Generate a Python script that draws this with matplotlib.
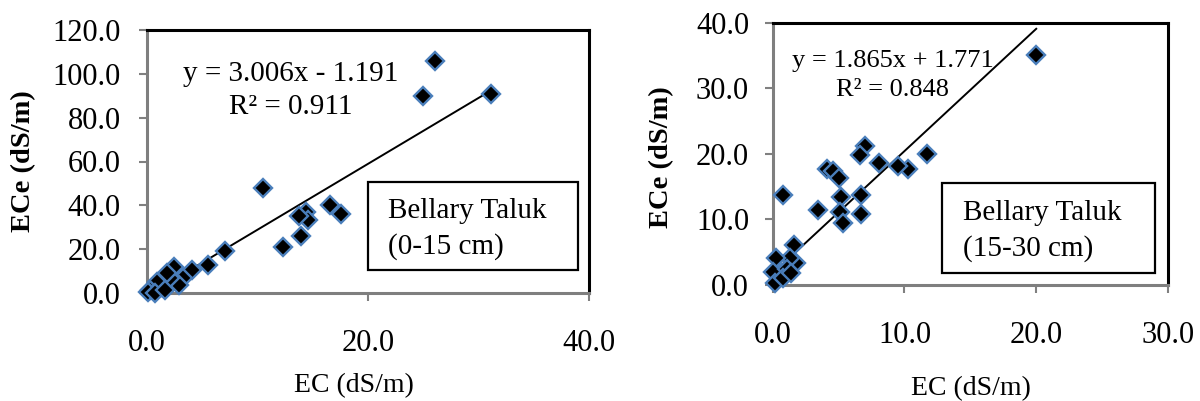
import matplotlib
matplotlib.use("Agg")
import matplotlib.pyplot as plt
from matplotlib.patches import Rectangle
import numpy as np

plt.rcParams['font.family'] = ['Liberation Serif', 'DejaVu Serif']

# ---- Data: Bellary Taluk (0-15 cm) ----
ec_0_15 = [26.1, 25.0, 31.1, 10.5, 16.6, 17.6, 14.4, 14.6, 13.8, 13.9, 12.3,
           7.1, 5.5, 4.1, 2.4, 3.3, 2.9, 2.1, 1.8, 1.3, 0.9, 0.3, 0.05, 0.7, 1.6]
ece_0_15 = [106.0, 90.0, 91.0, 48.0, 40.0, 36.0, 37.0, 33.5, 35.0, 26.0, 21.0,
            19.3, 12.8, 10.5, 12.0, 6.7, 3.7, 6.7, 9.0, 2.9, 5.2, 1.4, 0.3, 0.2, 1.2]
fit_0_15 = dict(slope=3.006, intercept=-1.191, r2=0.911)

# ---- Data: Bellary Taluk (15-30 cm) ----
ec_15_30 = [20.0, 11.7, 10.3, 9.5, 8.1, 7.0, 6.6, 4.1, 4.6, 5.0, 0.8, 6.7, 5.2,
            3.4, 6.7, 5.1, 5.3, 1.6, 1.8, 1.3, 0.25, 0.7, 0.05, 1.1, 0.2, 0.8, 1.4]
ece_15_30 = [35.0, 20.0, 17.7, 18.2, 18.6, 21.2, 19.8, 17.7, 17.4, 16.3, 13.8, 13.8, 13.4,
             11.4, 10.9, 11.2, 9.5, 6.1, 3.4, 4.1, 4.1, 1.9, 2.0, 2.4, 0.3, 1.0, 1.8]
fit_15_30 = dict(slope=1.865, intercept=1.771, r2=0.848)

x_ticks_left = [0.0, 20.0, 40.0]
y_ticks_left = [0.0, 20.0, 40.0, 60.0, 80.0, 100.0, 120.0]
x_ticks_right = [0.0, 10.0, 20.0, 30.0]
y_ticks_right = [0.0, 10.0, 20.0, 30.0, 40.0]

x_label = "EC (dS/m)"
y_label = "ECe (dS/m)"
box_left = ["Bellary Taluk", "(0-15 cm)"]
box_right = ["Bellary Taluk", "(15-30 cm)"]

W, H = 1200, 401
fig = plt.figure(figsize=(12, 4.01), dpi=100)

def fx(px):
    return px / W

def fy(py):
    return 1 - py / H

def make_axes(x0, x1, y0, y1):
    return fig.add_axes([fx(x0), fy(y1), fx(x1 - x0), (y1 - y0) / H])

def style(ax, xt, yt, xpad, ypad):
    ax.set_xlim(xt[0], xt[-1])
    ax.set_ylim(yt[0], yt[-1])
    ax.set_xticks(xt)
    ax.set_yticks(yt)
    ax.set_xticklabels([f"{v:.1f}" for v in xt])
    ax.set_yticklabels([f"{v:.1f}" for v in yt])
    for s in ['top', 'right']:
        ax.spines[s].set_color('black')
        ax.spines[s].set_linewidth(2.2)
    for s in ['left', 'bottom']:
        ax.spines[s].set_color('#7f7f7f')
        ax.spines[s].set_linewidth(2.2)
    ax.tick_params(axis='both', direction='out', length=6, width=1.5,
                   color='#808080', labelsize=22)
    ax.tick_params(axis='x', pad=20)
    ax.tick_params(axis='y', pad=ypad)

def scatter_fit(ax, x, y, fit):
    x = np.asarray(x)
    xs = np.array([x.min(), x.max()])
    ax.plot(xs, fit['slope'] * xs + fit['intercept'], color='black', lw=1.4, zorder=2)
    ax.plot(x, y, linestyle='none', marker='D', ms=9.5, mfc='black',
            mec='#4A7EBB', mew=1.7, zorder=3, clip_on=False)

def fit_text(fit):
    sign = '+' if fit['intercept'] >= 0 else '-'
    return (f"y = {fit['slope']:.3f}x {sign} {abs(fit['intercept']):.3f}",
            f"R² = {fit['r2']:.3f}")

# Left panel
axL = make_axes(147, 589, 30, 293)
style(axL, x_ticks_left, y_ticks_left, xpad=20, ypad=13)
scatter_fit(axL, ec_0_15, ece_0_15, fit_0_15)
l1, l2 = fit_text(fit_0_15)
fig.text(fx(290.5), fy(74), l1, ha='center', va='center', fontsize=21)
fig.text(fx(290.5), fy(107), l2, ha='center', va='center', fontsize=21)
fig.patches.append(Rectangle((fx(368), fy(270)), fx(578 - 368), (270 - 182) / H,
                             transform=fig.transFigure, fill=True, fc='white',
                             ec='black', lw=1.6, zorder=5))
fig.text(fx(388), fy(211), box_left[0], ha='left', va='center', fontsize=21, zorder=6)
fig.text(fx(388), fy(247), box_left[1], ha='left', va='center', fontsize=21, zorder=6)
fig.text(fx(354), fy(386), x_label, ha='center', va='center', fontsize=20)
fig.text(fx(24), fy(161), y_label, ha='center', va='center', rotation=90,
         fontsize=20.5, fontweight='bold')

# Right panel
axR = make_axes(772.7, 1168, 22.7, 285)
style(axR, x_ticks_right, y_ticks_right, xpad=20, ypad=11)
scatter_fit(axR, ec_15_30, ece_15_30, fit_15_30)
r1, r2 = fit_text(fit_15_30)
fig.text(fx(893), fy(61), r1, ha='center', va='center', fontsize=19)
fig.text(fx(893), fy(90), r2, ha='center', va='center', fontsize=19)
fig.patches.append(Rectangle((fx(942), fy(273)), fx(1155 - 942), (273 - 183) / H,
                             transform=fig.transFigure, fill=True, fc='white',
                             ec='black', lw=1.6, zorder=5))
fig.text(fx(963), fy(213), box_right[0], ha='left', va='center', fontsize=21, zorder=6)
fig.text(fx(963), fy(249), box_right[1], ha='left', va='center', fontsize=21, zorder=6)
fig.text(fx(971), fy(389), x_label, ha='center', va='center', fontsize=20)
fig.text(fx(662), fy(157), y_label, ha='center', va='center', rotation=90,
         fontsize=20.5, fontweight='bold')

fig.savefig("out.png", dpi=100)
